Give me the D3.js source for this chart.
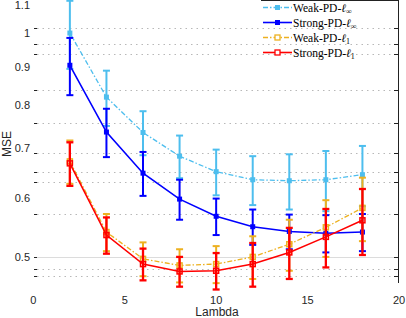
<!DOCTYPE html>
<html><head><meta charset="utf-8">
<script src="https://cdn.jsdelivr.net/npm/d3@7"></script>
<style>body{margin:0;background:#fff}svg{display:block}</style>
</head><body>
<script>
const lambdas = [2,4,6,8,10,12,14,16,18];
const weakInf      = [1.000,0.820,0.735,0.683,0.651,0.635,0.633,0.635,0.645];
const weakInfErr   = [0.105,0.070,0.050,0.045,0.046,0.048,0.054,0.059,0.060];
const strongInf    = [0.905,0.736,0.648,0.598,0.567,0.549,0.541,0.538,0.540];
const strongInfErr = [0.080,0.055,0.044,0.037,0.032,0.030,0.029,0.031,0.031];
const weakL1       = [0.672,0.540,0.497,0.487,0.489,0.500,0.520,0.548,0.582];
const weakL1Err    = [0.045,0.031,0.026,0.025,0.028,0.033,0.041,0.048,0.057];
const strongL1     = [0.668,0.535,0.489,0.478,0.479,0.489,0.507,0.532,0.560];
const strongL1Err  = [0.045,0.030,0.024,0.022,0.027,0.033,0.040,0.048,0.057];
const xTicks = [0,5,10,15,20];
const yTickLabels = [1.1,1,0.9,0.8,0.7,0.6,0.5];
const gridValues = [1.0157,0.966,0.937,0.838,0.757,0.689,0.650,0.630,0.571,0.481,0.471];
const majorGrid = [0.5];
const seriesNames = ["Weak-PD-", "Strong-PD-", "Weak-PD-", "Strong-PD-"];
const seriesSubs = ["\u221E","\u221E","1","1"];

const W=406,H=318;
const L=33.3, R=399, T=0, B=283;
const x = d3.scaleLinear().domain([0,20]).range([L,R]);
const y = d3.scaleLog().domain([0.4612,1.1077]).range([B,T]);

const svg = d3.select("body").append("svg").attr("width",W).attr("height",H);

// grid
svg.append("g").selectAll("line").data(gridValues).join("line")
  .attr("x1",37).attr("x2",394).attr("y1",d=>Math.round(y(d))+0.5).attr("y2",d=>Math.round(y(d))+0.5)
  .attr("stroke","#b8b8b8").attr("stroke-width",1).attr("stroke-dasharray","1.5,4");
svg.append("g").selectAll("line").data(majorGrid).join("line")
  .attr("x1",37).attr("x2",394).attr("y1",d=>Math.round(y(d))+0.5).attr("y2",d=>Math.round(y(d))+0.5)
  .attr("stroke","#dcdcdc").attr("stroke-width",1);
// left ticks
svg.append("g").selectAll("line").data(gridValues.concat(majorGrid)).join("line")
  .attr("x1",34).attr("x2",37).attr("y1",d=>Math.round(y(d))+0.5).attr("y2",d=>Math.round(y(d))+0.5)
  .attr("stroke","#222").attr("stroke-width",1);
// right ticks and axis
svg.append("g").selectAll("line").data(gridValues.concat(majorGrid)).join("line")
  .attr("x1",394).attr("x2",398).attr("y1",d=>Math.round(y(d))+0.5).attr("y2",d=>Math.round(y(d))+0.5)
  .attr("stroke","#222").attr("stroke-width",1);
svg.append("line").attr("x1",398.5).attr("x2",398.5).attr("y1",0).attr("y2",B).attr("stroke","#222");
svg.append("line").attr("x1",261).attr("x2",399).attr("y1",0.5).attr("y2",0.5).attr("stroke","#222");

// tick labels
svg.append("g").selectAll("text").data(yTickLabels).join("text")
  .attr("x",30).attr("y",d=>Math.max(y(d)+4,9)).attr("text-anchor","end")
  .attr("font-family","Liberation Sans, Arial, sans-serif").attr("font-size",11).attr("fill","#262626")
  .text(d=>d);
svg.append("g").selectAll("text").data(xTicks).join("text")
  .attr("x",d=>x(d)).attr("y",304).attr("text-anchor","middle")
  .attr("font-family","Liberation Sans, Arial, sans-serif").attr("font-size",11).attr("fill","#262626")
  .text(d=>d);
svg.append("text").attr("x",217).attr("y",316).attr("text-anchor","middle")
  .attr("font-family","Liberation Sans, Arial, sans-serif").attr("font-size",12).attr("fill","#262626").text("Lambda");
svg.append("text").attr("transform","translate(10.5,144) rotate(-90)").attr("text-anchor","middle")
  .attr("font-family","Liberation Sans, Arial, sans-serif").attr("font-size",12).attr("fill","#262626").text("MSE");

const series = [
  {v:weakInf,e:weakInfErr,c:"#4DBEEE",dash:"5,2,1.5,2",fill:true,ew:2,lw:1.3},
  {v:strongInf,e:strongInfErr,c:"#0000FF",dash:null,fill:true,ew:2,lw:1.6},
  {v:weakL1,e:weakL1Err,c:"#EDB120",dash:"5,2,1.5,2",fill:false,ew:2,lw:1.3},
  {v:strongL1,e:strongL1Err,c:"#FF0000",dash:null,fill:false,ew:2.3,lw:1.6},
];
const line = d3.line().x(d=>x(d[0])).y(d=>y(d[1]));
series.forEach(s=>{
  const g = svg.append("g");
  const pts = lambdas.map((l,i)=>[l,s.v[i],s.e[i]]);
  g.append("path").attr("d",line(pts)).attr("fill","none").attr("stroke",s.c)
    .attr("stroke-width",s.lw).attr("stroke-dasharray",s.dash);
  pts.forEach(p=>{
    const xc=x(p[0]), y1=y(p[1]+p[2]), y2=y(p[1]-p[2]);
    g.append("line").attr("x1",xc).attr("x2",xc).attr("y1",y1).attr("y2",y2).attr("stroke",s.c).attr("stroke-width",s.ew);
    [y1,y2].forEach(yy=>g.append("line").attr("x1",xc-3.5).attr("x2",xc+3.5).attr("y1",yy).attr("y2",yy).attr("stroke",s.c).attr("stroke-width",s.ew));
    if(s.fill){
      g.append("rect").attr("x",xc-2.5).attr("y",y(p[1])-2.5).attr("width",5).attr("height",5).attr("fill",s.c);
    } else {
      g.append("rect").attr("x",xc-2.5).attr("y",y(p[1])-2.5).attr("width",5).attr("height",5).attr("fill","none").attr("stroke",s.c).attr("stroke-width",1.5);
    }
  });
});

// legend
const lg = svg.append("g");
seriesNames.forEach((n,i)=>{
  const s=series[i], yy=7.5+i*15;
  lg.append("line").attr("x1",263).attr("x2",292).attr("y1",yy).attr("y2",yy).attr("stroke",s.c)
    .attr("stroke-width",s.lw).attr("stroke-dasharray",s.dash);
  if(s.fill) lg.append("rect").attr("x",275).attr("y",yy-2.5).attr("width",5).attr("height",5).attr("fill",s.c);
  else lg.append("rect").attr("x",275).attr("y",yy-2.5).attr("width",5).attr("height",5).attr("fill","#fff").attr("stroke",s.c).attr("stroke-width",1.3);
  const t = lg.append("text").attr("x",293).attr("y",yy+4).attr("font-family","Liberation Serif, Times New Roman, serif")
    .attr("font-size",11.5).attr("fill","#000");
  t.append("tspan").text(n);
  t.append("tspan").attr("font-style","italic").text("\u2113");
  t.append("tspan").attr("font-size",8).attr("dy",2.5).text(seriesSubs[i]);
});
</script>
</body></html>
